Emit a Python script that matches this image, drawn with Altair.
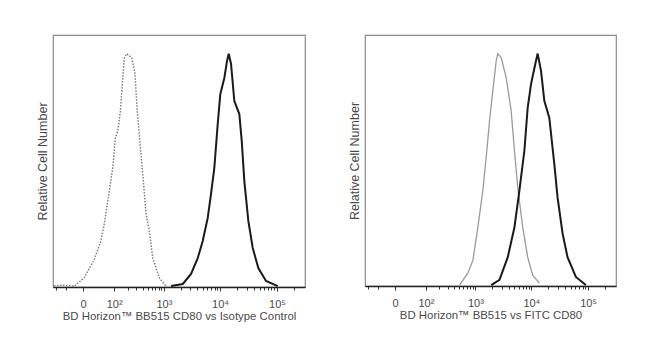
import altair as alt
import pandas as pd

# ---- Left panel: isotype control (dotted) vs BB515 CD80 (solid black)
iso_x = [-90, -50, -17, 2, 23, 42, 54, 75, 92, 107, 122, 140, 158, 171, 192, 244, 285, 312,
         358, 404, 467, 539, 624, 827, 1096]
iso_y = [0.5, 0.8, 0.4, 4.0, 12.0, 19.7, 27.0, 41.1, 51.0, 63.9, 66.9, 75.4, 89.6, 98.1, 100,
         98.3, 91.3, 76.7, 61.3, 48.4, 31.3, 24.0, 12.4, 3.9, 0.4]

bb_l_x = [1350, 2189, 3076, 4044, 4956, 6072, 6944, 7940, 9112, 10130, 11910, 13280, 14230,
          15620, 17860, 21850, 24080, 26750, 31440, 37560, 47100, 64230, 103030]
bb_l_y = [0.4, 1.3, 5.6, 12.4, 19.7, 29.6, 39.9, 51.0, 69.9, 82.7, 89.6, 96.9, 100,
          95.6, 79.7, 74.1, 62.6, 45.4, 28.3, 16.7, 8.1, 2.6, 0.4]

# ---- Right panel: FITC CD80 (gray) vs BB515 CD80 (solid black)
fitc_x = [509, 728, 900, 1110, 1366, 1613, 1804, 2066, 2376, 2537, 2917, 3578, 4388, 5020,
          5740, 7032, 8612, 10545, 13835]
fitc_y = [0.4, 5.6, 11.1, 25.3, 41.1, 58.3, 71.1, 84.0, 96.9, 100, 98.3, 89.7, 75.4, 58.3,
          42.4, 25.3, 12.4, 4.7, 1.3]

bb_r_x = [1935, 2720, 3820, 5020, 6148, 7532, 8612, 9884, 11764, 12912, 14816, 16936, 20732,
          25380, 29000, 35500, 43445, 60940, 91280]
bb_r_y = [0.4, 2.6, 12.4, 25.3, 41.1, 58.3, 76.7, 87.0, 95.6, 100, 92.6, 79.7, 72.4, 52.7,
          38.1, 22.7, 12.4, 3.9, 0.4]

tick_values = [-80, -40, 0, 100, 200, 300, 400, 500, 600, 700, 800, 900,
               1000, 2000, 3000, 4000, 5000, 6000, 7000, 8000, 9000,
               10000, 20000, 30000, 40000, 50000, 60000, 70000, 80000, 90000,
               100000, 200000]
major_labels = {0: "0", 100: "10²", 1000: "10³", 10000: "10⁴", 100000: "10⁵"}

x_title_left = "BD Horizon™ BB515 CD80 vs Isotype Control"
x_title_right = "BD Horizon™ BB515 vs FITC CD80"
y_title = "Relative Cell Number"

FONT = "Liberation Sans"
TXT = "#4a4a4a"

label_expr = " : ".join(
    f"datum.value == {k} ? '{v}'" for k, v in major_labels.items()
) + " : ''"
major_test = " || ".join(f"datum.value == {k}" for k in major_labels)


def xenc(title):
    return alt.X(
        "x:Q",
        scale=alt.Scale(type="symlog", constant=40, domain=[-95, 310000], nice=False),
        axis=alt.Axis(
            title=title, values=tick_values, labelExpr=label_expr, grid=False,
            labelOverlap=False, labelFlush=False,
            tickSize={"condition": {"test": major_test, "value": 4}, "value": 3},
            tickColor="#333333", domainColor="#222222", domainWidth=1.5,
            labelFont=FONT, labelFontSize=11, labelColor=TXT, labelPadding=7,
            titleFont=FONT, titleFontSize=11.4, titleColor=TXT, titleFontWeight="normal",
            titlePadding=1,
        ),
    )


def yenc():
    return alt.Y(
        "y:Q",
        scale=alt.Scale(domain=[0, 108], nice=False),
        axis=alt.Axis(
            title=y_title, labels=False, ticks=False, domain=False, grid=False,
            titleFont=FONT, titleFontSize=12.5, titleColor=TXT, titleFontWeight="normal",
            titlePadding=4,
        ),
    )


def curve(xs, ys, color, width, dash=None, title=""):
    df = pd.DataFrame({"x": xs, "y": ys})
    kw = dict(color=color, strokeWidth=width, clip=True, interpolate="linear")
    if dash:
        kw["strokeDash"] = dash
    return alt.Chart(df).mark_line(**kw).encode(x=xenc(title), y=yenc())


left = alt.layer(
    curve(iso_x, iso_y, "#777777", 1.4, dash=[1.5, 1.5], title=x_title_left),
    curve(bb_l_x, bb_l_y, "#1a1a1a", 2.0, title=x_title_left),
).properties(width=252, height=252)

right = alt.layer(
    curve(fitc_x, fitc_y, "#9a9a9a", 1.3, title=x_title_right),
    curve(bb_r_x, bb_r_y, "#1a1a1a", 2.0, title=x_title_right),
).properties(width=251, height=251)

chart = alt.hconcat(left, right, spacing=41).properties(
    padding={"left": 35, "top": 34, "right": 5, "bottom": 5},
    background="white",
).configure_view(stroke="#8a8a8a", strokeWidth=1.2)

chart.save("out.html", embed_options={"renderer": "svg", "actions": False})
